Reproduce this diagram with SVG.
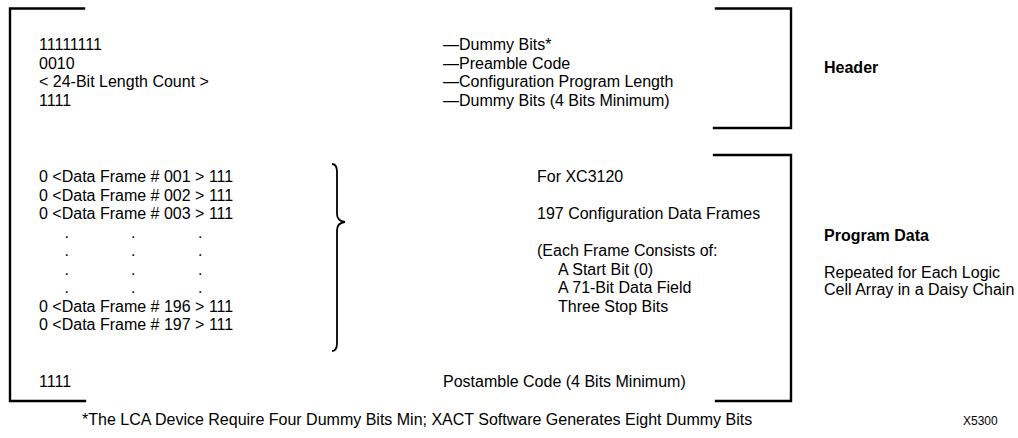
<svg xmlns="http://www.w3.org/2000/svg" width="1018" height="438" viewBox="0 0 1018 438">
<style>
  text { font-family: "Liberation Sans", Arial, Helvetica, sans-serif; font-size: 16px; fill: #000; }
  .b { font-weight: bold; }
  .small { font-size: 12px; }
  .br { fill: none; stroke: #000; stroke-width: 2.4; stroke-linecap: square; }
  .brace { fill: none; stroke: #000; stroke-width: 1.8; }
</style>
<rect width="1018" height="438" fill="#fff"/>

<g id="brackets">
  <path class="br" d="M84,8.5 H10 V401 H85"/>
  <path class="br" d="M716,8.5 H791 V128 H714"/>
  <path class="br" d="M714,155 H791 V401 H716"/>
  <path class="brace" d="M332,164 Q337,164 337,172 L337,214 Q337,221 345,222 Q337,223 337,230 L337,343 Q337,351 332,351"/>
</g>

<g id="header">
  <text x="39" y="50">11111111</text>
  <text x="39" y="68.7">0010</text>
  <text x="39" y="87.3">&lt; 24-Bit Length Count &gt;</text>
  <text x="39" y="106">1111</text>
  <text x="443" y="50">—Dummy Bits*</text>
  <text x="443" y="68.7">—Preamble Code</text>
  <text x="443" y="87.3">—Configuration Program Length</text>
  <text x="443" y="106">—Dummy Bits (4 Bits Minimum)</text>
  <text class="b" x="824" y="73">Header</text>
</g>

<g id="program-data">
  <text x="39" y="182">0 &lt;Data Frame # 001 &gt; 111</text>
  <text x="39" y="200.5">0 &lt;Data Frame # 002 &gt; 111</text>
  <text x="39" y="219">0 &lt;Data Frame # 003 &gt; 111</text>
  <text y="237.5"><tspan x="64.5">.</tspan><tspan x="131">.</tspan><tspan x="198">.</tspan></text>
  <text y="256"><tspan x="64.5">.</tspan><tspan x="131">.</tspan><tspan x="198">.</tspan></text>
  <text y="274.5"><tspan x="64.5">.</tspan><tspan x="131">.</tspan><tspan x="198">.</tspan></text>
  <text y="293"><tspan x="64.5">.</tspan><tspan x="131">.</tspan><tspan x="198">.</tspan></text>
  <text x="39" y="311.5">0 &lt;Data Frame # 196 &gt; 111</text>
  <text x="39" y="330">0 &lt;Data Frame # 197 &gt; 111</text>
  <text x="537" y="182">For XC3120</text>
  <text x="537" y="219">197 Configuration Data Frames</text>
  <text x="537" y="256">(Each Frame Consists of:</text>
  <text x="558" y="274.5">A Start Bit (0)</text>
  <text x="558" y="293">A 71-Bit Data Field</text>
  <text x="558" y="311.5">Three Stop Bits</text>
  <text class="b" x="824" y="241">Program Data</text>
  <text x="824" y="278">Repeated for Each Logic</text>
  <text x="824" y="294.5">Cell Array in a Daisy Chain</text>
</g>

<g id="postamble">
  <text x="39" y="387">1111</text>
  <text x="443" y="387">Postamble Code (4 Bits Minimum)</text>
</g>

<g id="footnote">
  <text x="82" y="425">*The LCA Device Require Four Dummy Bits Min; XACT Software Generates Eight Dummy Bits</text>
  <text class="small" x="963" y="425">X5300</text>
</g>
</svg>
